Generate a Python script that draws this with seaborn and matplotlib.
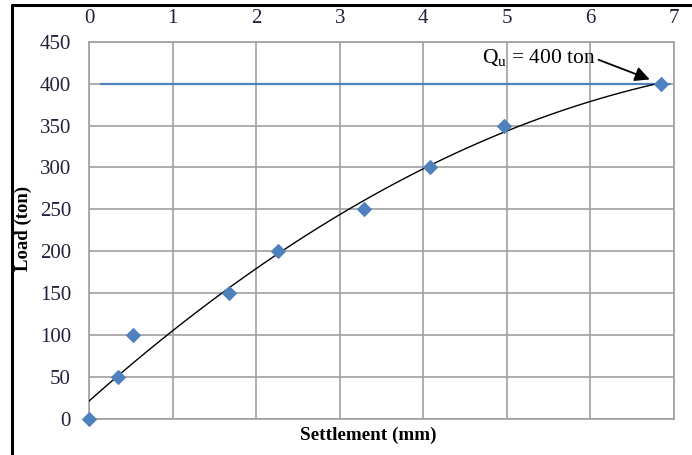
import numpy as np
import pandas as pd
import matplotlib
matplotlib.use("Agg")
import matplotlib.pyplot as plt
from matplotlib.lines import Line2D
import seaborn as sns

# ── data ──────────────────────────────────────────────────────
settlement = [0, 0.35, 0.53, 1.68, 2.26, 3.29, 4.08, 4.97, 6.84]   # mm
load       = [0, 50, 100, 150, 200, 250, 300, 350, 400]            # ton
qu_x       = [0.14, 6.95]
qu_y       = [400, 400]
x_ticks    = [0, 1, 2, 3, 4, 5, 6, 7]
y_ticks    = [0, 50, 100, 150, 200, 250, 300, 350, 400, 450]

df = pd.DataFrame({"Settlement": settlement, "Load": load})
qu = pd.DataFrame({"x": qu_x, "y": qu_y})

sns.set_style("white")
plt.rcParams["font.family"] = ["Liberation Serif", "DejaVu Serif"]
plt.rcParams["mathtext.fontset"] = "custom"
plt.rcParams["mathtext.rm"] = "Liberation Serif"

blue  = "#4F81BD"
grid  = "#A0A0A0"
tickc = "#20203A"

fig = plt.figure(figsize=(6.92, 4.55), dpi=100)
ax = fig.add_axes([89/692, 36/455, 585/692, 377.3/455])

# ── lines and points ─────────────────────────────────────────
sns.lineplot(data=qu, x="x", y="y", ax=ax, color=blue, linewidth=1.6, zorder=2)
sns.regplot(data=df, x="Settlement", y="Load", order=2, ci=None, scatter=False,
            ax=ax, line_kws={"color": "black", "linewidth": 1.0, "zorder": 3})
sns.scatterplot(data=df, x="Settlement", y="Load", ax=ax, marker="D", s=62,
                color=blue, edgecolor=blue, linewidth=0, zorder=4, clip_on=False)

ax.annotate(r"Q$_\mathrm{u}$ = 400 ton", xy=(6.71, 405), xytext=(4.70, 430),
            fontsize=15.5, va="center", ha="left", color="black",
            arrowprops=dict(arrowstyle="-|>", color="black", lw=1.3,
                            mutation_scale=22, relpos=(1.0, 0.5),
                            shrinkA=0, shrinkB=0))

# ── axes formatting ──────────────────────────────────────────
ax.set_xlim(0, 7)
ax.set_ylim(0, 450)
ax.set_xticks(x_ticks)
ax.set_yticks(y_ticks)
ax.xaxis.tick_top()
ax.tick_params(axis="both", length=0, labelsize=15, colors=tickc)
ax.tick_params(axis="y", pad=13)
ax.tick_params(axis="x", pad=10)
ax.grid(True, color=grid, linewidth=1.2)
ax.set_axisbelow(True)
for sp in ax.spines.values():
    sp.set_color(grid)
    sp.set_linewidth(1.2)

ax.xaxis.set_label_position("bottom")
ax.set_xlabel("Settlement (mm)", fontsize=13.8, fontweight="bold", color="black")
ax.xaxis.set_label_coords((368 - 89) / 585, -0.02)
ax.set_ylabel("Load (ton)", fontsize=13.5, fontweight="bold", color="black")
ax.yaxis.set_label_coords((32 - 89) / 585, 0.506)

# outer frame of the cropped figure
fig.add_artist(Line2D([12/692, 12/692], [0, 1 - 5/455], color="black",
                      linewidth=2.2, transform=fig.transFigure))
fig.add_artist(Line2D([12/692, 1], [1 - 5/455, 1 - 5/455], color="black",
                      linewidth=2.2, transform=fig.transFigure))

fig.savefig("out.png", dpi=100)
